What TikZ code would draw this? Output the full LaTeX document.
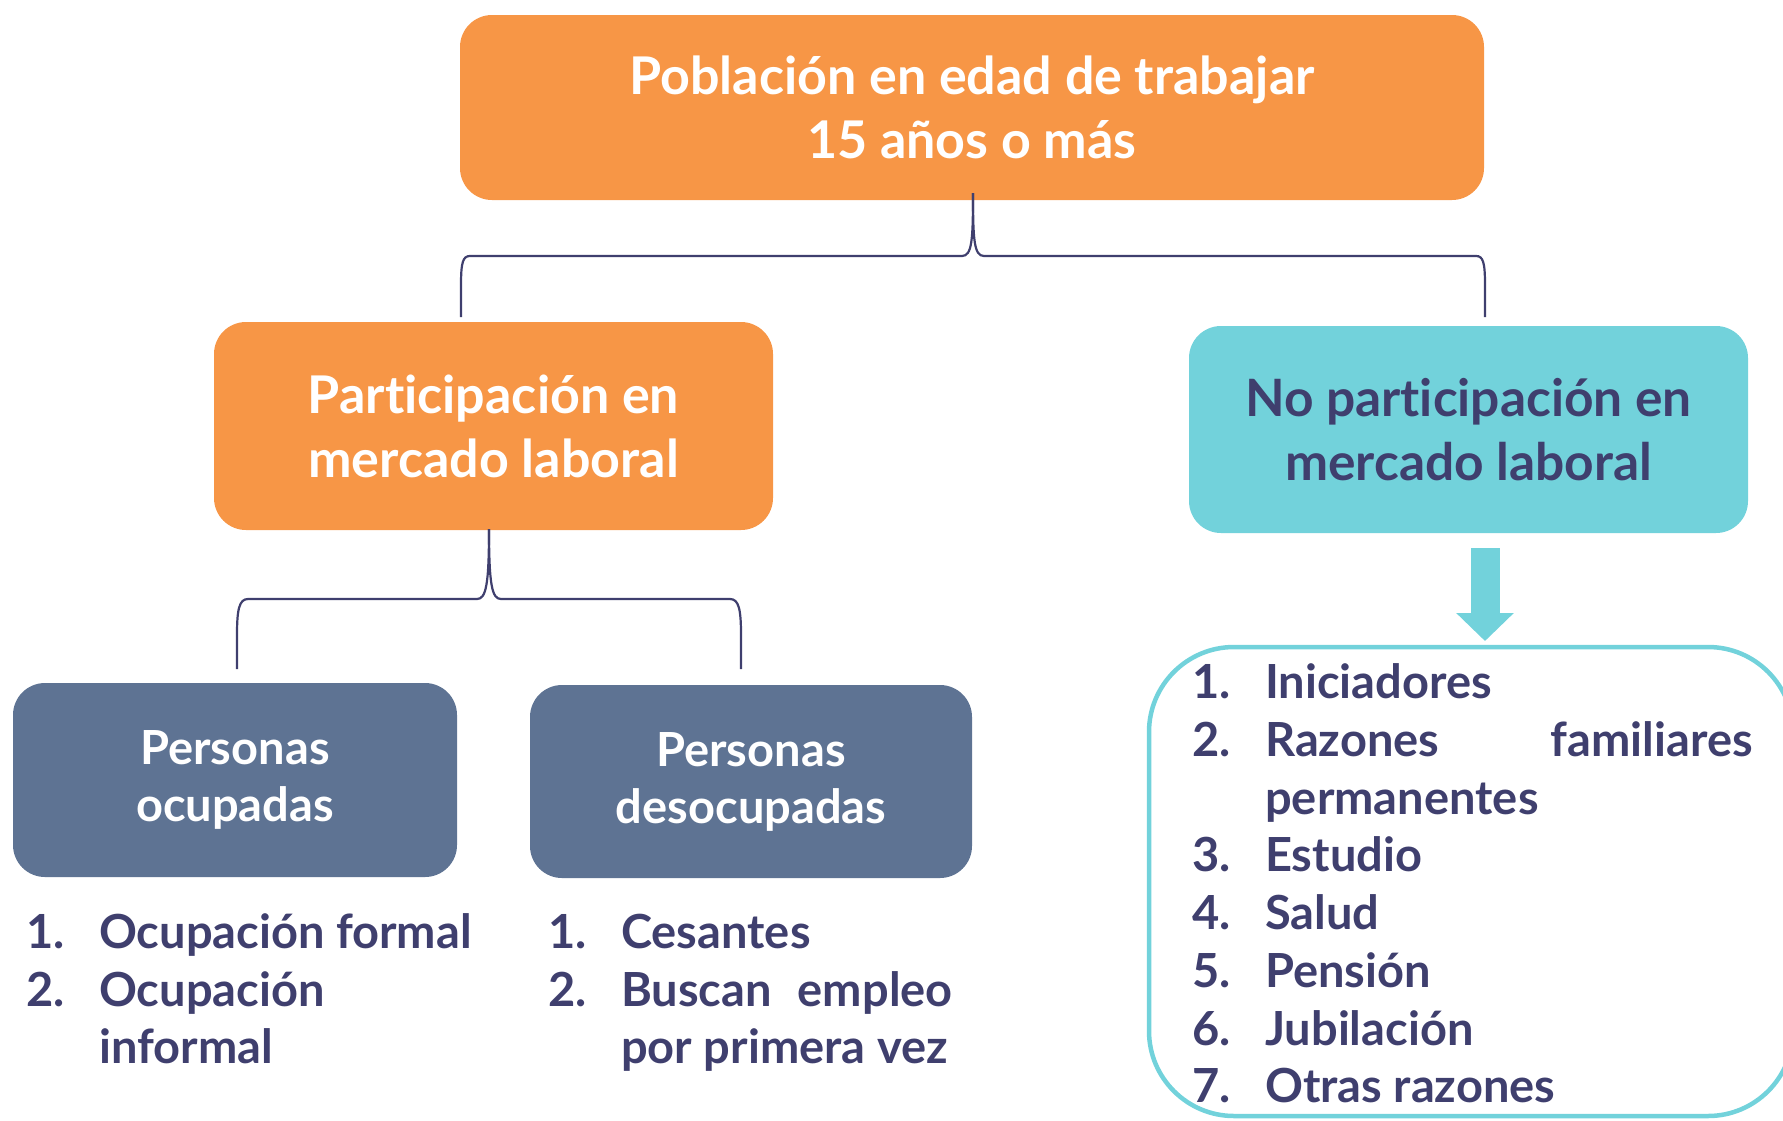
\documentclass[tikz,border=0pt]{standalone}
\usepackage{fontspec}
\setmainfont{Lato}[RawFeature={-liga,-dlig}]
\usetikzlibrary{arrows.meta,calc}
\definecolor{orng}{HTML}{F79646}
\definecolor{teal}{HTML}{72D2DB}
\definecolor{slate}{HTML}{5E7393}
\definecolor{navy}{HTML}{3F3F6E}
\begin{document}
\begin{tikzpicture}[x=1pt,y=-1pt,
  box/.style={rounded corners=32pt, inner sep=0pt, align=center, font=\bfseries},
  brace/.style={draw=navy, line width=2.2pt},
  item/.style={anchor=base west, inner sep=0pt, text=navy, font=\fontsize{47}{58}\selectfont\bfseries},
  litem/.style={anchor=base west, inner sep=0pt, text=navy, font=\fontsize{47}{57}\selectfont\bfseries}]
\useasboundingbox (0,0) rectangle (1783,1120);
\clip (0,0) rectangle (1783,1120);
% boxes
\node[box, fill=orng, text=white, minimum width=1024pt, minimum height=185pt,
  font=\fontsize{52}{64}\selectfont\bfseries] (top) at (972,107.5)
  {Población en edad de trabajar\\15 años o más};
\node[box, fill=orng, text=white, minimum width=559pt, minimum height=208pt,
  font=\fontsize{52}{64}\selectfont\bfseries] (part) at (493.5,426)
  {Participación en\\mercado laboral};
\node[box, fill=teal, text=navy, minimum width=559pt, minimum height=207pt,
  font=\fontsize{51.5}{64}\selectfont\bfseries] (nopart) at (1468.5,429.5)
  {No participación en\\mercado laboral};
\node[box, fill=slate, text=white, minimum width=444pt, minimum height=194pt,
  font=\fontsize{47}{57}\selectfont\bfseries] (ocup) at (235,780)
  {Personas\\ocupadas};
\node[box, fill=slate, text=white, minimum width=442pt, minimum height=193pt,
  font=\fontsize{47}{57}\selectfont\bfseries] (desoc) at (751,781.5)
  {Personas\\desocupadas};
% braces
\coordinate (c1) at (973,193);
\draw[brace] (c1) .. controls (973,240) and (972,256) .. (962,256) -- (470,256)
  .. controls (463,256) and (461,262) .. (461,285) -- (461,317) coordinate (e1);
\draw[brace] (c1) .. controls (973,240) and (974,256) .. (984,256) -- (1476,256)
  .. controls (1483,256) and (1485,262) .. (1485,285) -- (1485,317) coordinate (e2);
\coordinate (c2) at (489,529);
\draw[brace] (c2) .. controls (489,585) and (486,599) .. (477,599) -- (248,599)
  .. controls (239,599) and (237,610) .. (237,635) -- (237,669) coordinate (e3);
\draw[brace] (c2) .. controls (489,585) and (492,599) .. (501,599) -- (730,599)
  .. controls (739,599) and (741,610) .. (741,635) -- (741,669) coordinate (e4);
% list box
\node[draw=teal, line width=4.5pt, rounded corners=85pt, minimum width=644pt,
  minimum height=469pt, inner sep=0pt] (lst) at (1471,881.5) {};
% arrow
\coordinate (a1) at (1485,548);
\coordinate (a2) at (1485,641);
\draw[teal, line width=29pt, -{Triangle[width=56pt,length=28pt]}] (a1) -- (a2);
% right list
\foreach \n/\t/\y in {1./Iniciadores/698, 2./Razones/756, 3./Estudio/871, 4./Salud/929,
  5./Pensión/987, 6./Jubilación/1045, 7./Otras razones/1102}{
  \node[item] (rn\n) at (1192,\y) {\n};
  \node[item] (rt\n) at (1265,\y) {\t};
}
\node[item, anchor=base east] (rfam) at (1753,756) {familiares};
\node[item] (rperm) at (1265,814) {permanentes};
% left lists
\node[litem] (l1n) at (26,948) {1.};
\node[litem] (l1t) at (99,948) {Ocupación formal};
\node[litem] (l2n) at (26,1006) {2.};
\node[litem] (l2t) at (99,1006) {Ocupación};
\node[litem] (l3t) at (99,1063) {informal};
\node[litem] (m1n) at (548,948) {1.};
\node[litem] (m1t) at (621,948) {Cesantes};
\node[litem] (m2n) at (548,1006) {2.};
\node[litem] (m2t) at (621,1006) {Buscan};
\node[litem, anchor=base east] (m2e) at (953,1006) {empleo};
\node[litem] (m3t) at (621,1063) {por primera vez};
\end{tikzpicture}
\end{document}
